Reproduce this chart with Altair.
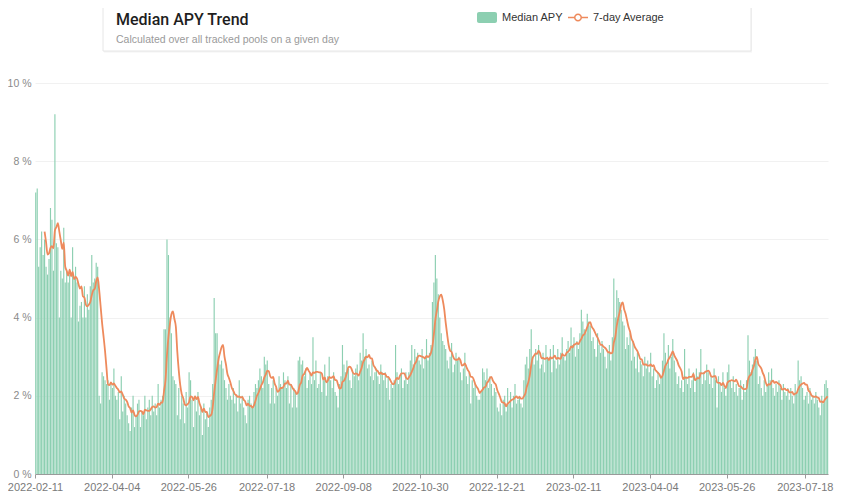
import altair as alt
import pandas as pd

# ---- Median APY (%), one value per day starting 2022-02-11 ----
apy_feb_apr_2022 = [
    7.2, 7.3, 5.3, 5.8, 6.2, 5.6, 6.0,
    5.3, 5.1, 5.5, 6.8, 6.5, 5.2, 9.2,
    5.9, 5.8, 4.0, 5.2, 5.0, 6.3, 4.9,
    5.2, 4.9, 5.1, 4.0, 5.8, 5.0, 5.3,
    4.9, 3.9, 4.3, 4.4, 4.0, 4.8, 4.0,
    4.6, 4.2, 4.8, 5.6, 4.9, 5.0, 5.4,
    5.3, 2.0, 1.8, 2.6, 2.5, 2.4, 2.3,
    2.4, 1.9, 2.3, 2.2, 2.7, 2.0, 1.9,
]
apy_apr_jun_2022 = [
    2.1, 1.4, 2.5, 1.6, 2.0, 1.8, 1.5,
    1.3, 1.1, 1.7, 2.0, 1.2, 1.5, 1.8,
    1.9, 1.2, 1.6, 1.5, 2.0, 1.4, 1.7,
    1.9, 1.5, 2.0, 1.6, 1.8, 1.5, 2.3,
    1.7, 1.9, 2.0, 3.7, 3.7, 6.0, 5.6,
    4.0, 3.6, 2.5, 2.4, 2.3, 1.5, 2.2,
    1.4, 2.0, 1.8, 1.3, 2.1, 1.7, 2.6,
    2.4, 1.9, 1.2, 2.0, 1.6, 2.1, 1.5,
]
apy_jun_aug_2022 = [
    1.7, 1.0, 1.8, 1.4, 1.6, 1.2, 1.7,
    1.9, 2.3, 4.5, 3.6, 3.6, 3.0, 2.8,
    2.9, 2.7, 2.4, 2.2, 1.9, 2.3, 2.0,
    1.9, 2.2, 1.8, 2.0, 1.6, 2.4, 1.8,
    2.0, 1.7, 1.5, 1.3, 1.9, 2.0, 1.8,
    1.7, 2.1, 2.3, 2.2, 2.4, 2.7, 2.5,
    2.2, 3.0, 2.8, 2.9, 2.3, 1.8, 2.2,
    2.4, 1.8, 2.2, 2.0, 2.5, 2.3, 2.2,
]
apy_aug_oct_2022 = [
    2.6, 2.4, 2.2, 2.5, 1.8, 2.3, 1.7,
    2.2, 2.1, 1.7, 2.9, 3.0, 2.8, 2.9,
    2.5, 2.7, 2.2, 2.4, 2.6, 2.3, 3.5,
    2.4, 2.9, 2.2, 2.3, 2.6, 2.1, 2.4,
    2.8, 2.0, 2.5, 3.0, 2.4, 2.2, 2.6,
    2.1, 2.0, 1.7, 2.3, 2.5, 3.3, 2.8,
    2.6, 2.9, 2.7, 2.4, 2.2, 2.6, 2.5,
    2.7, 2.8, 2.4, 3.1, 2.9, 3.6, 3.0,
]
apy_oct_dec_2022 = [
    3.2, 2.7, 2.8, 2.5, 2.9, 2.4, 2.6,
    2.7, 2.5, 2.3, 2.8, 2.6, 2.4, 2.6,
    2.2, 2.5, 1.9, 2.3, 2.2, 2.4, 3.3,
    2.6, 2.3, 2.5, 2.7, 2.2, 2.4, 2.6,
    2.3, 2.6, 2.9, 3.3, 2.8, 3.2, 3.0,
    3.1, 2.9, 2.8, 3.2, 2.7, 3.0, 3.45,
    2.9, 3.1, 3.3, 4.4, 4.9, 5.6, 5.0,
    4.6, 4.0, 3.6, 3.4, 3.3, 3.2, 2.9,
]
apy_nov_2022_jan_2023 = [
    2.7, 3.0, 3.35, 2.6, 2.8, 3.1, 2.9,
    3.0, 2.6, 2.4, 2.7, 3.1, 2.5, 2.3,
    2.6, 1.8, 2.4, 2.2, 2.3, 2.0, 1.9,
    1.9, 2.1, 2.7, 2.6, 2.4, 2.7, 2.2,
    2.5, 2.3, 2.0, 2.2, 2.1, 1.7, 1.6,
    1.8, 1.5, 1.9, 2.0, 1.6, 2.2, 1.8,
    2.1, 1.7, 2.0, 2.3, 1.8, 1.9, 2.0,
    1.8, 1.7, 2.4, 2.8, 3.0, 2.7, 3.2,
]
apy_jan_mar_2023 = [
    3.7, 3.0, 2.8, 3.2, 2.9, 3.3, 2.7,
    2.8, 3.1, 2.6, 3.3, 3.0, 2.9, 3.2,
    2.6, 3.3, 2.9, 2.7, 3.2, 2.8, 3.1,
    3.5, 3.0, 2.9, 3.2, 3.4, 3.1, 3.75,
    3.3, 3.5, 3.0, 3.4, 3.2, 3.6, 4.2,
    3.9, 3.7, 3.6, 4.1, 3.9, 3.8, 3.4,
    3.5, 3.2, 3.0, 3.6, 3.3, 3.1, 3.4,
    3.2, 3.0, 2.7, 3.1, 3.3, 2.9, 3.5,
]
apy_mar_may_2023 = [
    5.0, 4.0, 4.7, 4.5, 4.4, 4.2, 3.9,
    3.8, 3.2, 3.5, 3.3, 3.6, 2.9, 3.4,
    3.0, 2.7, 3.1, 2.6, 2.9, 2.8, 2.5,
    3.0, 2.7, 2.9, 2.6, 3.1, 2.5, 2.7,
    2.2, 2.4, 2.6, 2.3, 2.5, 2.9, 3.6,
    3.1, 2.8, 3.3, 2.7, 3.0, 3.45, 2.9,
    2.6, 2.3, 2.5, 2.2, 2.4, 2.1, 3.2,
    2.5, 2.3, 2.7, 2.2, 2.4, 2.6, 2.1,
]
apy_may_aug_2023 = [
    2.7, 2.5, 2.6, 3.2, 2.3, 2.6, 2.4,
    2.8, 2.6, 2.3, 2.5, 2.2, 2.7, 2.4,
    1.7, 2.5, 2.3, 2.1, 2.6, 2.2, 2.0,
    2.6, 2.8, 2.4, 2.2, 2.5, 2.1, 2.3,
    2.0, 2.2, 2.4, 1.9, 2.3, 2.1, 2.4,
    3.55, 2.9, 2.6, 2.8, 3.0, 3.2, 2.9,
    2.3, 2.5, 2.2, 2.0, 2.4, 2.1, 2.3,
    2.6, 2.4, 2.7, 2.2, 2.0, 2.3, 2.1,
    2.4, 2.2, 1.9, 2.3, 2.1, 2.0, 2.2,
    1.9, 2.2, 2.0, 1.8, 2.3, 2.1, 2.9,
    2.4, 2.5, 2.2, 1.9, 2.0, 2.1, 1.8,
    2.2, 1.9, 2.0, 1.8, 2.1, 1.9, 1.7,
    1.5, 2.0, 1.8, 2.3, 2.4, 2.2,
]

first_day = "2022-02-11"
tick_labels = ["2022-02-11", "2022-04-04", "2022-05-26", "2022-07-18", "2022-09-08",
               "2022-10-30", "2022-12-21", "2023-02-11", "2023-04-04", "2023-05-26",
               "2023-07-18"]
y_ticks = [0, 2, 4, 6, 8, 10]

title_text = "Median APY Trend"
subtitle_text = "Calculated over all tracked pools on a given day"
legend_bar = "Median APY"
legend_line = "7-day Average"

BAR = "#8ccfb1"
LINE = "#ee8a5c"

apy = (apy_feb_apr_2022 + apy_apr_jun_2022 + apy_jun_aug_2022 + apy_aug_oct_2022 +
       apy_oct_dec_2022 + apy_nov_2022_jan_2023 + apy_jan_mar_2023 +
       apy_mar_may_2023 + apy_may_aug_2023)
dates = pd.date_range(first_day + " 12:00", periods=len(apy), freq="D")
df = pd.DataFrame({"date": dates.strftime("%Y-%m-%dT%H:%M:%S"), "apy": apy})


def dt(s, hours=0):
    y, m, d = (int(p) for p in s.split("-"))
    return alt.DateTime(year=y, month=m, date=d, hours=hours)


last = dates[-1].strftime("%Y-%m-%d")
x_enc = alt.X(
    "date:T",
    scale=alt.Scale(domain=[dt(first_day), dt(last, 18)], nice=False, padding=0),
    axis=alt.Axis(values=[dt(t) for t in tick_labels], format="%Y-%m-%d", title=None,
                  labelFlush=False, grid=False, labelColor="#7a7a7a", labelFontSize=11,
                  labelFont="Liberation Sans", domainColor="#9a9a9a", tickColor="#9a9a9a",
                  tickSize=4, labelPadding=3, labelAngle=0),
)
y_enc = alt.Y(
    "apy:Q",
    scale=alt.Scale(domain=[0, 10], nice=False),
    axis=alt.Axis(values=y_ticks, labelExpr="datum.value + ' %'", title=None,
                  domain=False, ticks=False, tickSize=0, gridColor="#f1f1f1",
                  labelColor="#8a8a8a", labelFontSize=10.5, labelFont="Liberation Sans",
                  labelPadding=4),
)

base = alt.Chart(df)
bars = base.mark_bar(width=1.15, color=BAR).encode(x=x_enc, y=y_enc)
line = (
    base.transform_window(avg="mean(apy)", cnt="count()", frame=[-6, 0],
                          sort=[alt.SortField("date")])
    .transform_filter("datum.cnt >= 7")
    .mark_line(color=LINE, strokeWidth=1.8, interpolate="monotone")
    .encode(x="date:T", y=alt.Y("avg:Q"))
)

one = pd.DataFrame({"k": [0]})
deco = alt.Chart(one)
card = deco.mark_rect(fill="white", stroke="#e6e6e6", strokeWidth=1).encode(
    x=alt.value(68), x2=alt.value(716), y=alt.value(-90), y2=alt.value(-32))
card_shadow = deco.mark_rect(fill="#f4f4f4").encode(
    x=alt.value(69), x2=alt.value(717), y=alt.value(-90), y2=alt.value(-30.5))
title = deco.mark_text(align="left", baseline="alphabetic", font="Roboto", fontSize=16,
                       fontWeight=500, color="#1e1e1e").encode(
    x=alt.value(81), y=alt.value(-58), text=alt.value(title_text))
subtitle = deco.mark_text(align="left", baseline="alphabetic", font="Liberation Sans",
                          fontSize=10.5, color="#9a9a9a").encode(
    x=alt.value(81), y=alt.value(-40), text=alt.value(subtitle_text))
leg_rect = deco.mark_rect(color=BAR, cornerRadius=2).encode(
    x=alt.value(442), x2=alt.value(462), y=alt.value(-71), y2=alt.value(-60))
leg_txt1 = deco.mark_text(align="left", baseline="middle", font="Liberation Sans",
                          fontSize=11, color="#333333").encode(
    x=alt.value(467), y=alt.value(-65.5), text=alt.value(legend_bar))
leg_rule = deco.mark_rule(color=LINE, strokeWidth=1.5).encode(
    x=alt.value(533), x2=alt.value(553), y=alt.value(-65.5))
leg_dot = deco.mark_point(shape="circle", filled=True, fill="white", stroke=LINE,
                          strokeWidth=1.5, size=42, opacity=1).encode(
    x=alt.value(543), y=alt.value(-65.5))
leg_txt2 = deco.mark_text(align="left", baseline="middle", font="Liberation Sans",
                          fontSize=11, color="#333333").encode(
    x=alt.value(558), y=alt.value(-65.5), text=alt.value(legend_line))

chart = (
    alt.layer(card_shadow, card, bars, line, title, subtitle, leg_rect, leg_txt1,
              leg_rule, leg_dot, leg_txt2)
    .properties(width=793, height=391, autosize=alt.AutoSizeParams(type="none"),
                padding={"left": 27, "top": 75, "right": 6, "bottom": 22},
                background="white")
    .configure_view(stroke=None)
)

chart.save("out.html", embed_options={"renderer": "svg", "actions": False})
